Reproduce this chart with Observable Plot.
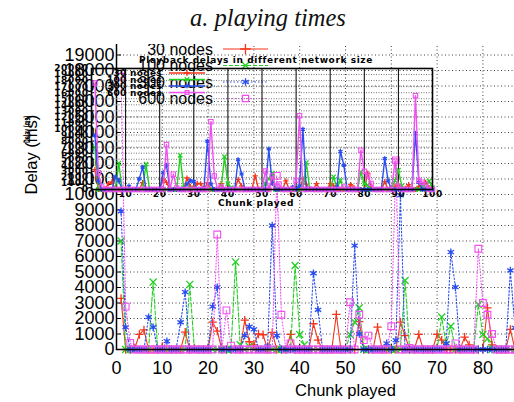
<!DOCTYPE html>
<html><head><meta charset="utf-8">
<script src="https://cdn.jsdelivr.net/npm/d3@7"></script>
<script src="https://cdn.jsdelivr.net/npm/@observablehq/plot@0.6"></script>
<style>
body{margin:0;background:#fff}
#root{position:relative;width:514px;height:402px;overflow:hidden;background:#fff}
#title{position:absolute;left:0;width:536px;top:4px;text-align:center;font:italic 24.5px "Liberation Serif","DejaVu Serif",serif;color:#111}
#fig{position:absolute;left:0;top:0;width:620px;height:402px;clip-path:inset(44px 0 0 0)}
#fig > svg{position:absolute;left:0;top:0}
.wide text{letter-spacing:0.6px}
</style></head><body>
<div id="root"><div id="title">a. playing times</div><div id="fig"></div></div>
<script>
const titleText = "a. playing times";
const insetTitle = "Playback delays in different network size";
const xLabel = "Chunk played";
const yLabel = "Delay (ms)";
const seriesNames = ["30 nodes", "100 nodes", "300 nodes", "600 nodes"];
const chunks = Array.from({length: 100}, (_, i) => i + 1);
const mainXTicks = [0,10,20,30,40,50,60,70,80,90,100];
const mainYTicks = [0,1000,2000,3000,4000,5000,6000,7000,8000,9000,10000,11000,12000,13000,14000,15000,16000,17000,18000,19000];
const insetXTicks = [0,10,20,30,40,50,60,70,80,90,100];
const insetYTicks = [0,1000,2000,3000,4000,5000,6000,7000,8000,9000,10000,11000,12000,13000,14000,15000,16000,17000,18000,19000,20000];

const nodes30 = [
 3300,0,0,100,970,1270,0,0,0,200,
 0,0,0,0,1120,0,100,0,0,0,
 1760,1180,0,0,0,0,0,1900,500,300,
 1000,950,0,1100,0,0,0,970,0,0,
 0,0,1660,600,0,0,0,2260,0,0,
 0,0,1800,0,0,0,1440,0,0,0,
 0,1760,900,0,0,970,0,0,0,970,
 600,0,0,0,0,800,300,0,0,0,
 2690,300,0,0,0,1300,0,300,500,800,
 300,200,800,0,0,500,700,1200,300,0];
const nodes100 = [
 7000,0,0,0,0,0,0,4350,0,0,
 0,0,0,0,0,4200,0,0,0,0,
 0,0,0,0,0,5650,300,0,200,0,
 0,0,0,0,0,0,0,0,5420,970,
 300,0,0,0,0,0,0,0,0,0,
 970,1760,2690,0,0,0,0,0,0,0,
 0,0,4450,0,0,0,0,0,0,0,
 2090,300,1500,0,0,0,0,0,2900,970,
 700,0,0,0,0,0,0,200,1500,3200,
 600,0,0,0,0,0,500,300,1400,300];
const nodes300 = [
 8920,1440,0,0,0,0,2090,1440,0,0,
 540,0,0,1760,3700,0,0,0,0,0,
 2770,4020,0,0,0,0,0,900,1470,1300,
 0,0,200,8000,900,0,0,0,0,0,
 0,0,4920,2560,0,0,0,0,0,0,
 0,6700,1000,0,0,0,0,0,400,0,
 600,9950,0,0,0,0,0,0,0,0,
 0,400,6280,4020,0,0,0,0,0,0,
 0,0,0,0,0,5100,1400,0,0,0,
 0,0,0,0,9300,1200,0,0,0,0];
const nodes600 = [
 17600,2770,430,0,0,0,0,0,0,0,
 0,0,0,0,0,0,0,0,0,0,
 0,7420,0,2520,250,0,0,0,0,0,
 0,0,0,0,11200,2240,0,400,0,0,
 0,0,0,0,0,0,0,0,0,0,
 3050,0,2240,600,900,0,0,0,0,1500,
 12200,0,0,100,0,0,0,0,0,0,
 0,0,0,400,0,0,0,0,6500,3000,
 2240,1000,0,0,0,0,0,0,4700,500,
 0,0,0,0,15500,1500,1200,800,0,0];

const RED = "#f4361c", GREEN = "#22d022", BLUE = "#2a4ff0", PINK = "#f050f0";
const series = [
  {name: seriesNames[0], values: nodes30, color: RED, dash: null, sym: "plus"},
  {name: seriesNames[1], values: nodes100, color: GREEN, dash: "4,2", sym: "times"},
  {name: seriesNames[2], values: nodes300, color: BLUE, dash: "1.5,2", sym: "asterisk"},
  {name: seriesNames[3], values: nodes600, color: PINK, dash: "1,2", sym: "square"}
];

function seriesMarks(s, inset) {
  const marks = [];
  marks.push(Plot.line(chunks, {x: chunks, y: s.values, stroke: s.color,
    strokeWidth: inset ? 1.4 : 1.1, strokeDasharray: inset ? null : s.dash}));
  const k = inset ? 0.65 : 1;
  if (s.sym === "plus") marks.push(Plot.dot(chunks, {x: chunks, y: s.values, symbol: "plus", r: 2.8*k, stroke: s.color, strokeWidth: 1.3}));
  if (s.sym === "times") marks.push(Plot.dot(chunks, {x: chunks, y: s.values, symbol: "times", r: 3.3*k, stroke: s.color, strokeWidth: 1.3}));
  if (s.sym === "asterisk") {
    marks.push(Plot.dot(chunks, {x: chunks, y: s.values, symbol: "asterisk", r: 3.5*k, stroke: s.color, strokeWidth: 1.3}));
    marks.push(Plot.dot(chunks, {x: chunks, y: s.values, symbol: "square", r: 1.6*k, fill: s.color}));
  }
  if (s.sym === "square") marks.push(Plot.dot(chunks, {x: chunks, y: s.values, symbol: "square", r: 3.8*k, stroke: s.color, strokeWidth: 1.1, fill: "none"}));
  return marks;
}

const fig = document.getElementById("fig");

const main = Plot.plot({
  width: 600, height: 402,
  marginLeft: 116, marginRight: 26, marginTop: 39, marginBottom: 53,
  style: {fontFamily: "'Liberation Sans', Arial, sans-serif", fontSize: "18px", color: "#000", background: "transparent"},
  x: {domain: [0, 100]},
  y: {domain: [0, 20000]},
  marks: [
    Plot.gridY(mainYTicks, {stroke: "#000", strokeOpacity: 0.75, strokeDasharray: "1,2.5"}),
    Plot.gridX(mainXTicks, {stroke: "#000", strokeOpacity: 0.75, strokeDasharray: "1,2.5"}),
    Plot.axisY(mainYTicks, {tickSize: -5, tickPadding: 7, tickFormat: "d", label: null, fontSize: 18}),
    Plot.axisX(mainXTicks, {tickSize: -5, tickPadding: 16.5, tickFormat: "d", label: null, fontSize: 18}),
    ...series.flatMap(s => seriesMarks(s, false)),
    Plot.frame({stroke: "#000", strokeWidth: 1.5}),
    Plot.text([yLabel], {frameAnchor: "left", rotate: -90, dx: -85, fontSize: 16.5}),
    Plot.text([xLabel], {frameAnchor: "bottom", dy: 46, fontSize: 16.5})
  ]
});
fig.appendChild(main);

function drawLegend(opts) {
  const svg = d3.create("svg").attr("width", 514).attr("height", 402)
    .style("position", "absolute").style("left", 0).style("top", 0).style("overflow", "visible");
  series.forEach((s, i) => {
    const y = opts.ys[i];
    svg.append("text").attr("x", opts.xText).attr("y", y).attr("text-anchor", "end")
      .attr("dominant-baseline", "central")
      .style("font", opts.font).style("letter-spacing", opts.ls || "0px").style("fill", "#000").text(s.name);
    svg.append("line").attr("x1", opts.x0).attr("x2", opts.x1).attr("y1", y).attr("y2", y)
      .attr("stroke", s.color).attr("stroke-width", opts.sw)
      .attr("stroke-dasharray", opts.dashed ? s.dash : null);
    const sym = {plus: d3.symbolPlus, times: d3.symbolTimes, asterisk: d3.symbolAsterisk, square: d3.symbolSquare}[s.sym];
    const cx = (opts.x0 + opts.x1) / 2;
    svg.append("path").attr("d", d3.symbol(sym, opts.size)())
      .attr("transform", `translate(${cx},${y})`)
      .attr("stroke", s.color).attr("stroke-width", 1.3)
      .attr("fill", s.sym === "asterisk" ? s.color : "none");
  });
  return svg.node();
}
fig.appendChild(drawLegend({xText: 213, x0: 223, x1: 268, ys: [49, 65.5, 82, 98.5],
  font: "16px 'Liberation Sans', Arial, sans-serif", sw: 1.2, dashed: true, size: 40}));

const inset = Plot.plot({
  width: 514, height: 240,
  marginLeft: 91, marginRight: 82, marginTop: 68, marginBottom: 51,
  className: "wide",
  style: {fontFamily: "'DejaVu Sans', sans-serif", fontSize: "9px", fontWeight: "bold", color: "#000", background: "transparent", overflow: "visible"},
  x: {domain: [0, 100]},
  y: {domain: [0, 20000]},
  marks: [
    Plot.gridY(insetYTicks, {stroke: "#777", strokeOpacity: 1, strokeDasharray: "1,1.5"}),
    Plot.gridX(insetXTicks, {stroke: "#000", strokeOpacity: 1}),
    Plot.axisY(insetYTicks, {tickSize: -3, tickPadding: 6, tickFormat: "d", label: null}),
    Plot.axisX(insetXTicks, {tickSize: -3, tickPadding: 4.5, tickFormat: "d", label: null}),
    ...series.flatMap(s => seriesMarks(s, true)),
    Plot.frame({stroke: "#000", strokeWidth: 1.6}),
    Plot.text([insetTitle], {frameAnchor: "top", dy: -12, dx: -6, fontSize: 9}),
    Plot.text([xLabel], {frameAnchor: "bottom", dy: 16, dx: -6, fontSize: 9}),
    Plot.text([yLabel], {frameAnchor: "left", rotate: -90, dx: -64, dy: 14, fontSize: 9, className: "ylab-inset"})
  ]
});
// condense the tiny inset y label along its length, as in the reference
d3.select(inset).selectAll("g.ylab-inset text, .ylab-inset text").each(function() {
  const t = this.getAttribute("transform") || "";
  this.setAttribute("transform", t + " scale(0.5,1)");
  this.style.letterSpacing = "0px";
});
fig.appendChild(inset);

fig.appendChild(drawLegend({xText: 162, x0: 169, x1: 205, ys: [73, 79.5, 86, 92.5],
  font: "bold 9px 'DejaVu Sans', sans-serif", ls: "0.3px", sw: 1.4, dashed: false, size: 14}));
</script>
</body></html>
